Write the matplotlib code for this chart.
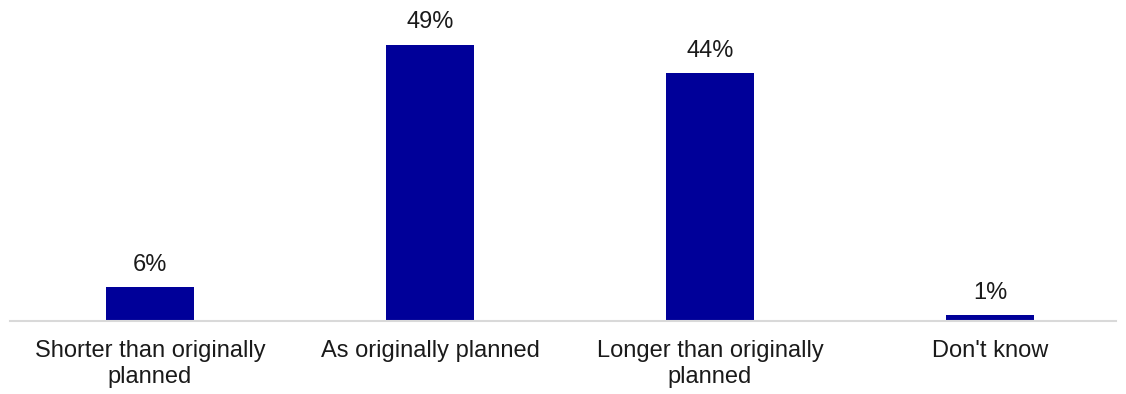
import matplotlib.pyplot as plt
import numpy as np

plt.rcParams['font.family'] = ['Liberation Sans', 'DejaVu Sans']

categories = ['Shorter than originally\nplanned', 'As originally planned',
              'Longer than originally\nplanned', "Don't know"]
values = [6, 49, 44, 1]
labels = ['6%', '49%', '44%', '1%']

fig = plt.figure(figsize=(11.26, 3.94), dpi=100)
ax = fig.add_axes([10/1126, 1 - 321/394, 1120/1126, 300/394])

x = np.arange(len(categories))
bars = ax.bar(x, values, width=0.314, color='#000099')

for b, lab in zip(bars, labels):
    ax.text(b.get_x() + b.get_width()/2, b.get_height() + 2.0, lab,
            ha='center', va='bottom', fontsize=17, color='#1a1a1a')

ax.set_xlim(-0.5, 3.5)
ax.set_ylim(0, 300/5.64)
ax.set_xticks(x)
ax.set_xticklabels(categories, fontsize=17, color='#1a1a1a', linespacing=1.2)
ax.tick_params(axis='x', length=0, pad=14)
ax.set_yticks([])
for s in ['top', 'right', 'left']:
    ax.spines[s].set_visible(False)
ax.spines['bottom'].set_color('#d9d9d9')
ax.spines['bottom'].set_linewidth(1.5)
ax.spines['bottom'].set_bounds(-0.5, 3.45)

fig.savefig('out.png', dpi=100)
